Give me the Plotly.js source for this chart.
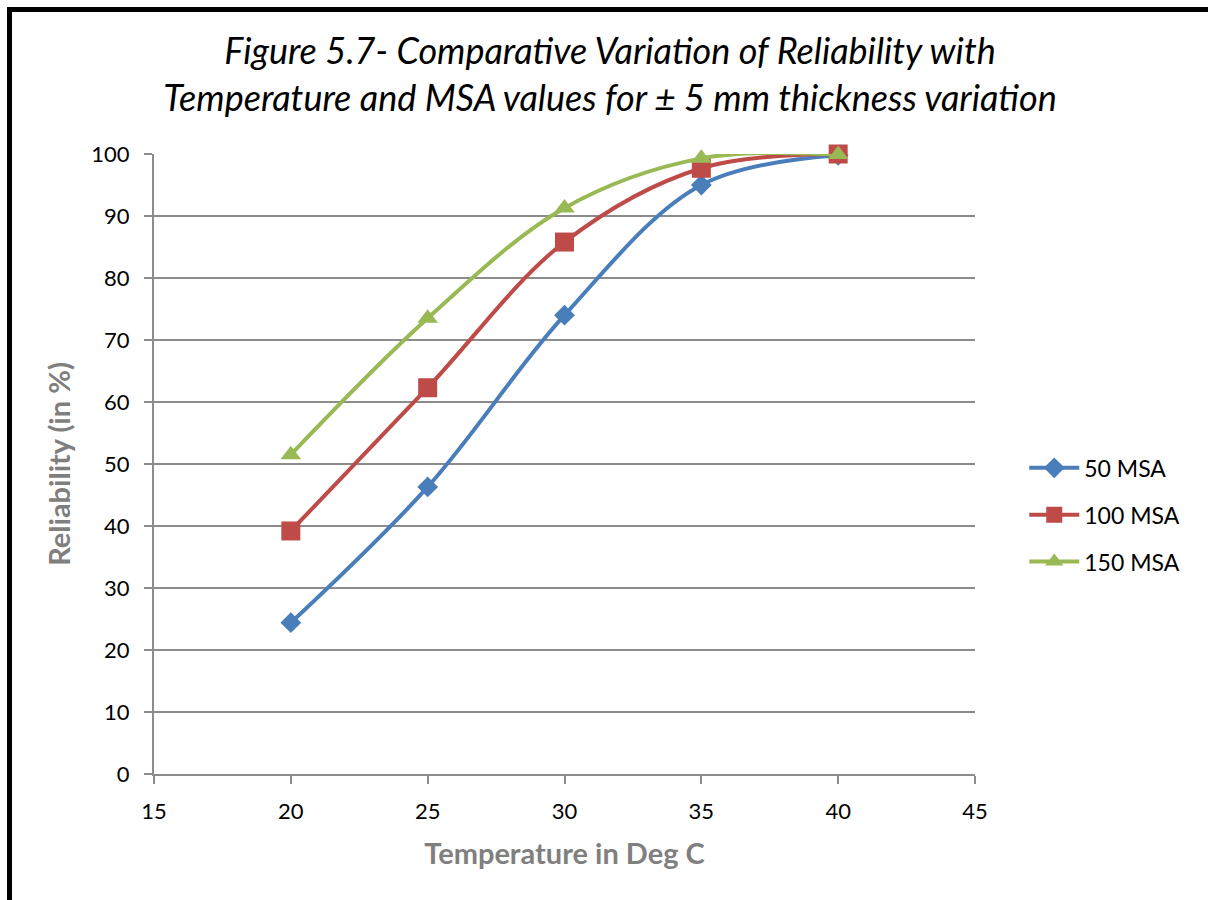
<!DOCTYPE html>
<html>
<head>
<meta charset="utf-8">
<script src="https://cdn.plot.ly/plotly-3.0.1.min.js"></script>
<style>
  html, body { margin: 0; padding: 0; background: #fff; }
  #chart { position: absolute; left: 0; top: 0; width: 1208px; height: 900px; }
  #frame { position: absolute; left: 7px; top: 7px; width: 1300px; height: 1000px;
           border-left: 5px solid #000; border-top: 5px solid #000; pointer-events: none; }
</style>
</head>
<body>
<div id="chart"></div>
<div id="frame"></div>
<script>
const temperature = [20, 25, 30, 35, 40];
const msa50 = [24.4, 46.3, 74.0, 95.0, 99.8];
const msa100 = [39.2, 62.3, 85.8, 97.7, 100.0];
const msa150 = [51.5, 73.5, 91.3, 99.3, 99.9];
const seriesNames = ['50 MSA', '100 MSA', '150 MSA'];
const xTicks = [15, 20, 25, 30, 35, 40, 45];
const yTicks = [0, 10, 20, 30, 40, 50, 60, 70, 80, 90, 100];

const colors = ['#4a7ebb', '#be4b48', '#98b954'];
const symbols = ['diamond', 'square', 'triangle-up'];
const sizes = [16, 19, 18];
const ys = [msa50, msa100, msa150];

const traces = ys.map((y, i) => ({
  x: temperature, y: y, name: seriesNames[i], type: 'scatter', mode: 'lines+markers',
  legendgroup: 'g' + i,
  line: { color: colors[i], width: 4, shape: 'spline', smoothing: 1 },
  marker: { color: colors[i], symbol: symbols[i], size: sizes[i], line: { width: 0 } },
  cliponaxis: false
}));

const gridColor = '#8c8c8c';
const layout = {
  width: 1208, height: 900,
  margin: { l: 154, r: 233, t: 154, b: 126 },
  paper_bgcolor: '#fff', plot_bgcolor: '#fff',
  font: { family: 'Lato, sans-serif', color: '#000', size: 22 },
  title: {
    text: '<i>Figure 5.7- Comparative Variation of Reliability with<br>Temperature and MSA values for ± 5 mm thickness variation</i>',
    font: { family: 'Lato, sans-serif', size: 36, color: '#000' },
    x: 0.505, xanchor: 'center', xref: 'container',
    y: 1 - 64 / 900, yanchor: 'top', yref: 'container'
  },
  xaxis: {
    range: [15, 45], tickvals: xTicks, ticktext: xTicks.map(String),
    showgrid: false, zeroline: false,
    showline: true, linecolor: gridColor, linewidth: 2,
    ticks: 'outside', ticklen: 8, tickwidth: 2, tickcolor: gridColor,
    ticklabelstandoff: 9,
    tickfont: { size: 22, color: '#000' },
    title: { text: '<b>Temperature in Deg C</b>', font: { size: 29, color: '#7f7f7f' }, standoff: 20 }
  },
  yaxis: {
    range: [0, 100], tickvals: yTicks, ticktext: yTicks.map(String),
    showgrid: true, gridcolor: gridColor, gridwidth: 2, zeroline: false,
    showline: true, linecolor: gridColor, linewidth: 2,
    ticks: 'outside', ticklen: 8, tickwidth: 2, tickcolor: gridColor,
    ticklabelstandoff: 10,
    tickfont: { size: 22, color: '#000' },
    title: { text: '<b>Reliability (in %)</b>', font: { size: 29, color: '#7f7f7f' }, standoff: 12 }
  },
  showlegend: true,
  legend: {
    x: 1.06, xanchor: 'left', y: 0.418, yanchor: 'middle',
    font: { size: 23, color: '#000' }, tracegroupgap: 14,
    bgcolor: 'rgba(0,0,0,0)', itemwidth: 50
  }
};

Plotly.newPlot('chart', traces, layout, { displayModeBar: false, staticPlot: true });
</script>
</body>
</html>
